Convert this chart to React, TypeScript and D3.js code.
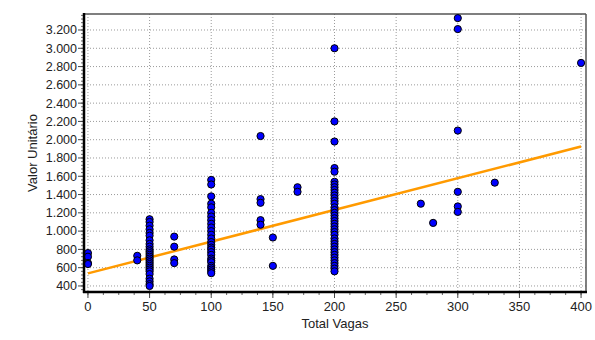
import React from 'react';
import * as d3 from 'd3';

// Total Vagas columns and the Valor Unitário read for each
const vagas0 = [760, 720, 650, 640];
const vagas40 = [730, 680];
const vagas50 = [1130, 1100, 1060, 1020, 980, 950, 900, 860, 830, 800, 780, 760, 740, 720, 700, 680, 660, 640, 620, 600, 580, 560, 530, 480, 450, 420, 400];
const vagas70 = [940, 830, 690, 650];
const vagas100 = [1560, 1510, 1380, 1300, 1260, 1200, 1160, 1120, 1080, 1040, 1000, 960, 920, 880, 850, 820, 800, 770, 740, 700, 680, 660, 620, 600, 580, 560, 540];
const vagas140 = [2040, 1350, 1310, 1120, 1070];
const vagas150 = [930, 620];
const vagas170 = [1480, 1430];
const vagas200 = [3000, 2200, 1980, 1690, 1650, 1540, 1510, 1480, 1450, 1420, 1390, 1360, 1330, 1300, 1260, 1230, 1200, 1170, 1140, 1110, 1080, 1050, 1020, 990, 960, 920, 890, 860, 830, 800, 770, 740, 710, 680, 650, 620, 590, 560];
const vagas270 = [1300];
const vagas280 = [1090];
const vagas300 = [3330, 3210, 2100, 1430, 1270, 1210];
const vagas330 = [1530];
const vagas400 = [2840];

const columns: [number, number[]][] = [
    [0, vagas0], [40, vagas40], [50, vagas50], [70, vagas70], [100, vagas100],
    [140, vagas140], [150, vagas150], [170, vagas170], [200, vagas200],
    [270, vagas270], [280, vagas280], [300, vagas300], [330, vagas330], [400, vagas400],
];

// linear trend (ends)
const trendX = [0, 400];
const trendY = [538, 1925];

const xTicks = [0, 50, 100, 150, 200, 250, 300, 350, 400];
const yTicks = [400, 600, 800, 1000, 1200, 1400, 1600, 1800, 2000, 2200, 2400, 2600, 2800, 3000, 3200];

const App = () => {
    const width = 595;
    const height = 340;
    const left = 84, right = 586, top = 14, bottom = 292;

    const xScale = d3.scaleLinear().domain([-3.2, 404]).range([left, right]);
    const yScale = d3.scaleLinear().domain([334, 3375]).range([bottom, top]);

    const fmt = d3.formatLocale({decimal: ',', thousands: '.', grouping: [3], currency: ['', '']}).format(',');

    const xMinor = d3.range(0, 404, 12.5);
    const yMinor = d3.range(360, 3375, 40);

    const points = columns.flatMap(([x, ys]) => ys.map(y => ({x, y})));
    const trend = d3.line<number>().x((d, i) => xScale(trendX[i])).y((d, i) => yScale(trendY[i]));

    const font = '"Liberation Sans", Arial, sans-serif';

    return (
        <svg width={width} height={height} style={{position: 'absolute', left: 0, top: 0}}>
            <rect width={width} height={height} fill="white"/>

            {/* grid */}
            {xTicks.map(t => (
                <line key={'gx' + t} x1={xScale(t)} x2={xScale(t)} y1={top} y2={bottom}
                      stroke="#9a9a9a" strokeDasharray="1,2"/>
            ))}
            {yTicks.map(t => (
                <line key={'gy' + t} x1={left} x2={right} y1={yScale(t)} y2={yScale(t)}
                      stroke="#9a9a9a" strokeDasharray="1,2"/>
            ))}

            {/* frame */}
            <line x1={left} x2={right} y1={top} y2={top} stroke="#555" strokeWidth={1.5}/>
            <line x1={right} x2={right} y1={top} y2={bottom} stroke="#555" strokeWidth={1.5}/>

            <path d={trend(trendX) || ''} fill="none" stroke="#ff9a00" strokeWidth={2.5}/>

            {points.map((p, i) => (
                <circle key={i} cx={xScale(p.x)} cy={yScale(p.y)} r={3.6}
                        fill="#0000ff" stroke="#000" strokeWidth={1}/>
            ))}

            {/* y axis */}
            {yMinor.map(t => (
                <line key={'my' + t} x1={left - 3} x2={left} y1={yScale(t)} y2={yScale(t)} stroke="#666"/>
            ))}
            {yTicks.map(t => (
                <g key={'ty' + t}>
                    <line x1={left - 6} x2={left} y1={yScale(t)} y2={yScale(t)} stroke="#444"/>
                    <text x={left - 7} y={yScale(t)} dy="0.35em" textAnchor="end"
                          fontFamily={font} fontSize={12.5} fill="#222">{fmt(t)}</text>
                </g>
            ))}
            <line x1={left} x2={left} y1={top - 1} y2={bottom + 1} stroke="#000" strokeWidth={2.5}/>

            {/* x axis */}
            {xMinor.map(t => (
                <line key={'mx' + t} x1={xScale(t)} x2={xScale(t)} y1={bottom} y2={bottom + 3} stroke="#666"/>
            ))}
            {xTicks.map(t => (
                <g key={'tx' + t}>
                    <line x1={xScale(t)} x2={xScale(t)} y1={bottom} y2={bottom + 6} stroke="#444"/>
                    <text x={xScale(t)} y={bottom + 19} textAnchor="middle"
                          fontFamily={font} fontSize={13} fill="#222">{t}</text>
                </g>
            ))}
            <line x1={left - 1} x2={right + 1} y1={bottom} y2={bottom} stroke="#000" strokeWidth={2.5}/>

            <text x={(left + right) / 2} y={bottom + 36} textAnchor="middle"
                  fontFamily={font} fontSize={13} fill="#222">Total Vagas</text>
            <text transform={`translate(37, ${(top + bottom) / 2}) rotate(-90)`} textAnchor="middle"
                  fontFamily={font} fontSize={13} fill="#222">Valor Unitário</text>
        </svg>
    );
};

export default App;
